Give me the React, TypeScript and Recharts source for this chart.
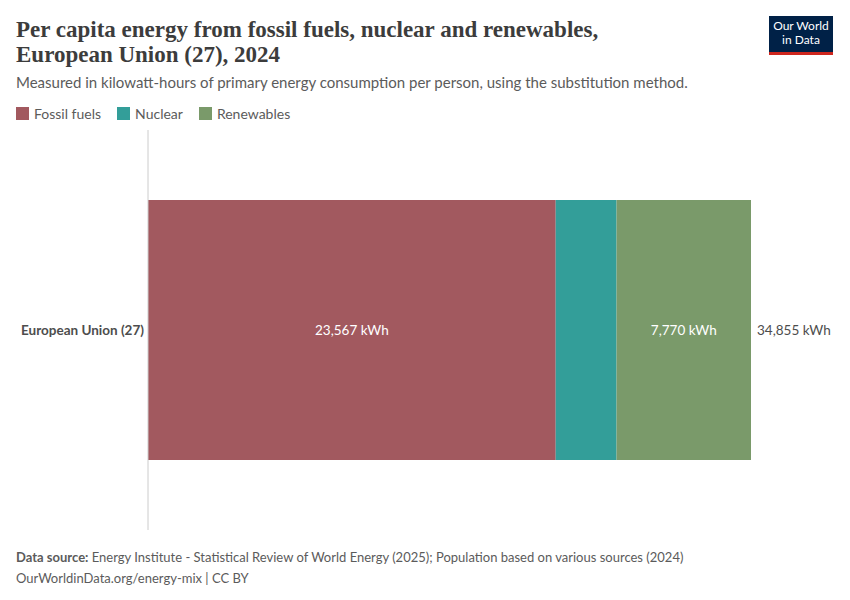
import { Bar, BarChart, LabelList, XAxis, YAxis } from "recharts";

const countries = ["European Union (27)"];
const fossilFuels = [23567];
const nuclear = [3518];
const renewables = [7770];

const SERIES = [
  { key: "fossil", name: "Fossil fuels", color: "#a2595f", values: fossilFuels },
  { key: "nuclear", name: "Nuclear", color: "#339e99", values: nuclear },
  { key: "renewables", name: "Renewables", color: "#7a9a6a", values: renewables },
];

const rows = countries.map((c, i) => ({
  country: c,
  fossil: fossilFuels[i],
  nuclear: nuclear[i],
  renewables: renewables[i],
  total: fossilFuels[i] + nuclear[i] + renewables[i],
}));

const fmt = (v: number) => `${v.toLocaleString("en-US")} kWh`;
const SANS = "Lato, 'Noto Sans', sans-serif";
const GREY = "#5b5b5b";

export default function App() {
  return (
    <div
      style={{
        position: "absolute",
        left: 0,
        top: 0,
        width: 850,
        height: 600,
        background: "#fff",
        fontFamily: SANS,
      }}
    >
      <div
        style={{
          position: "absolute",
          left: 16,
          top: 17,
          fontFamily: "'Liberation Serif', 'DejaVu Serif', serif",
          fontSize: 23,
          lineHeight: "25px",
          fontWeight: 600,
          color: "#3c3c3c",
        }}
      >
        Per capita energy from fossil fuels, nuclear and renewables,
        <br />
        European Union (27), 2024
      </div>
      <div
        style={{
          position: "absolute",
          left: 769,
          top: 16,
          width: 64,
          height: 33,
          background: "#002147",
          borderBottom: "3px solid #ce261e",
          color: "#fff",
          fontSize: 12,
          lineHeight: "14px",
          textAlign: "center",
          paddingTop: 3,
          boxSizing: "content-box",
        }}
      >
        Our World
        <br />
        in Data
      </div>
      <div style={{ position: "absolute", left: 16, top: 73, fontSize: 15, color: GREY }}>
        Measured in kilowatt-hours of primary energy consumption per person, using the
        substitution method.
      </div>
      <div
        style={{
          position: "absolute",
          left: 16,
          top: 105,
          display: "flex",
          fontSize: 14,
          color: GREY,
        }}
      >
        {SERIES.map((s) => (
          <div key={s.key} style={{ display: "flex", alignItems: "center", marginRight: 16 }}>
            <span
              style={{ width: 13, height: 13, background: s.color, marginRight: 5, display: "inline-block" }}
            />
            {s.name}
          </div>
        ))}
      </div>

      <div style={{ position: "absolute", left: 0, top: 0 }}>
        <BarChart
          width={850}
          height={600}
          data={rows}
          layout="vertical"
          margin={{ top: 130, right: 99, bottom: 70, left: 0 }}
          barSize={260}
        >
          <XAxis type="number" domain={[0, 34855]} hide />
          <YAxis
            type="category"
            dataKey="country"
            width={148}
            axisLine={{ stroke: "#cccccc" }}
            tickLine={false}
            tickSize={0}
            tickMargin={4}
            tick={{ fill: "#4d4d4d", fontSize: 13.5, fontWeight: 700, fontFamily: SANS }}
          />
          <Bar dataKey="fossil" stackId="a" fill={SERIES[0].color} isAnimationActive={false}>
            <LabelList
              dataKey="fossil"
              position="center"
              formatter={(v: any) => fmt(Number(v))}
              fill="#fff"
              style={{ fontSize: 13.5, fontFamily: SANS }}
            />
          </Bar>
          <Bar dataKey="nuclear" stackId="a" fill={SERIES[1].color} isAnimationActive={false} />
          <Bar dataKey="renewables" stackId="a" fill={SERIES[2].color} isAnimationActive={false}>
            <LabelList
              dataKey="renewables"
              position="center"
              formatter={(v: any) => fmt(Number(v))}
              fill="#fff"
              style={{ fontSize: 13.5, fontFamily: SANS }}
            />
            <LabelList
              dataKey="total"
              position="right"
              offset={6}
              formatter={(v: any) => fmt(Number(v))}
              fill="#4d4d4d"
              style={{ fontSize: 13.5, fontFamily: SANS }}
            />
          </Bar>
        </BarChart>
      </div>

      <div style={{ position: "absolute", left: 16, top: 547, fontSize: 13, color: GREY, lineHeight: "21px" }}>
        <b>Data source:</b> Energy Institute - Statistical Review of World Energy (2025); Population
        based on various sources (2024)
        <br />
        OurWorldinData.org/energy-mix | CC BY
      </div>
    </div>
  );
}
